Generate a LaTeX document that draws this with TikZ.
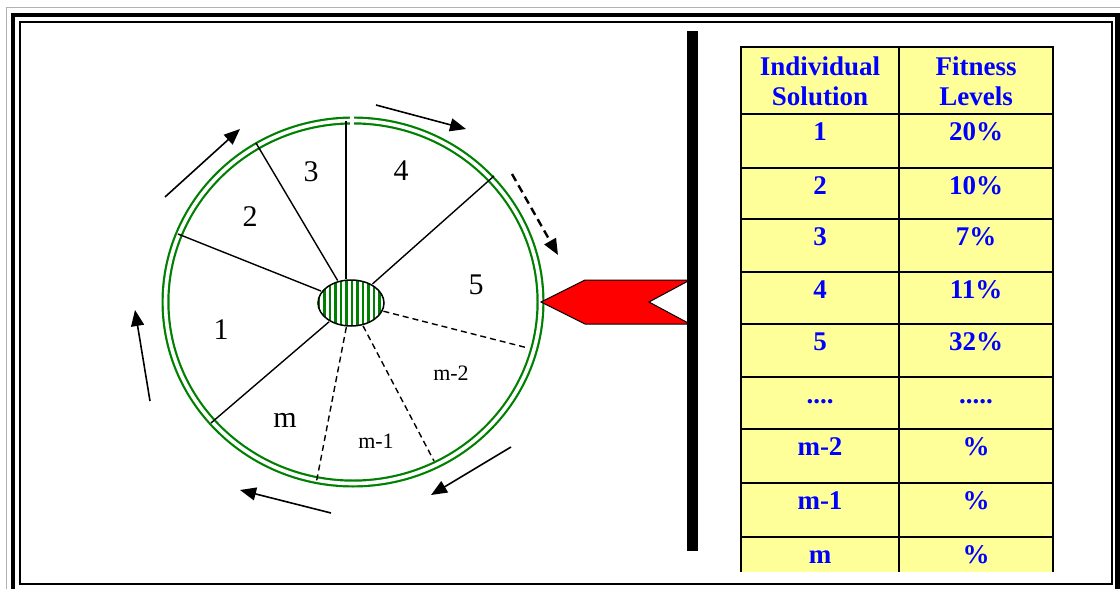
\documentclass[tikz,border=0pt]{standalone}
\usepackage{fontspec}
\setmainfont{Liberation Serif}
\usetikzlibrary{shapes.geometric,arrows.meta,patterns.meta}
\definecolor{cellyellow}{RGB}{255,255,153}
\definecolor{rimgreen}{RGB}{0,128,0}
\newcommand{\fewdots}{....}
\newcommand{\moredots}{.....}

\begin{document}
\begin{tikzpicture}[x=1pt,y=-1pt,
    rim/.style={draw=rimgreen, double=white, double distance=3.6pt, line width=2.2pt},
    spoke/.style={line width=1.4pt},
    dspoke/.style={line width=1.4pt, dash pattern=on 6pt off 4pt},
    turn/.style={line width=1.6pt, -{Triangle[length=16pt,width=13pt]}},
    seg/.style={font=\fontsize{30}{32}\selectfont},
    segsm/.style={font=\fontsize{22}{24}\selectfont},
    cell/.style={font=\fontsize{27}{30}\selectfont\bfseries, text=blue}]
    \useasboundingbox (0,0) rectangle (1120,589);
    % frame
    \draw[gray!60, line width=1pt] (6,7.5) rectangle (1126,600);
    \draw[line width=4.5pt] (13,15) rectangle (1117.5,596);
    \draw[line width=2pt] (20,22) rectangle (1112,584);
    % wheel
    \draw[rim] (353,302) ellipse (187.5 and 181.5);
    \fill[white] (350,113) rectangle (354,128);
    \node[draw, ellipse, line width=1.5pt, minimum width=66pt, minimum height=46pt, inner sep=0pt,
          pattern={Lines[angle=90,distance=5.5pt,line width=2.8pt]}, pattern color=rimgreen] (hub) at (351,303) {};
    \coordinate (r12) at (178,234);
    \coordinate (r23) at (256,143);
    \coordinate (r34) at (346,121);
    \coordinate (r45) at (494,176);
    \coordinate (r5m2) at (528,348);
    \coordinate (rm2m1) at (434,461);
    \coordinate (rm1m) at (316,484);
    \coordinate (rm1) at (211,423);
    \draw[spoke] (hub) -- (r12);
    \draw[spoke] (hub) -- (r23);
    \draw[spoke] (r34) -- (r34 |- hub.north);
    \draw[spoke] (hub) -- (r45);
    \draw[spoke] (hub) -- (rm1);
    \draw[dspoke] (hub) -- (r5m2);
    \draw[dspoke] (hub) -- (rm2m1);
    \draw[dspoke] (hub) -- (rm1m);
    \node[seg] (lab1) at (221,330) {1};
    \node[seg] (lab2) at (250,217) {2};
    \node[seg] (lab3) at (311,172) {3};
    \node[seg] (lab4) at (401,171) {4};
    \node[seg] (lab5) at (476,285) {5};
    \node[seg] (labm) at (285,420) {m};
    \node[segsm] (labm1) at (376,441) {m-1};
    \node[segsm] (labm2) at (451,373) {m-2};
    % turning arrows
    \coordinate (a1s) at (165,197); \coordinate (a1e) at (240,129);
    \coordinate (a2s) at (376,105); \coordinate (a2e) at (466,129);
    \coordinate (a3s) at (512,174); \coordinate (a3e) at (558,255);
    \coordinate (a4s) at (150,401); \coordinate (a4e) at (135,310);
    \coordinate (a5s) at (331,513); \coordinate (a5e) at (240,490);
    \coordinate (a6s) at (511,447); \coordinate (a6e) at (431,495);
    \draw[turn] (a1s) -- (a1e);
    \draw[turn] (a2s) -- (a2e);
    \draw[turn, line width=2.4pt, dash pattern=on 8pt off 5pt] (a3s) -- (a3e);
    \draw[turn] (a4s) -- (a4e);
    \draw[turn] (a5s) -- (a5e);
    \draw[turn] (a6s) -- (a6e);
    % pointer and bar
    \filldraw[fill=red, draw=black, line width=1pt] (541,302) -- (585,280) -- (690,280) -- (649,302) -- (690,324) -- (585,324) -- cycle;
    \fill (687,31) rectangle (698,551);
    % table
    \fill[cellyellow] (741,47) rectangle (1053,572);
    \foreach \y in {47,114,168,219,272,324,377,429,483,537}
        \draw[line width=2pt] (740,\y) -- (1054,\y);
    \foreach \x in {741,899,1053}
        \draw[line width=2pt] (\x,46) -- (\x,572);
    \node[cell, align=center] (hdsol) at (820,81) {Individual\\Solution};
    \node[cell, align=center] (hdfit) at (976,81) {Fitness\\Levels};
    \foreach \sol/\fit/\top [count=\i] in {1/20\%/114, 2/10\%/168, 3/7\%/219, 4/11\%/272, 5/32\%/324,
        \fewdots/\moredots/377, m-2/\%/429, m-1/\%/483, m/\%/537} {
        \node[cell, anchor=base] (sol\i) at (820,\top+26) {\sol};
        \node[cell, anchor=base] (fit\i) at (976,\top+26) {\fit};
    }
\end{tikzpicture}
\end{document}
